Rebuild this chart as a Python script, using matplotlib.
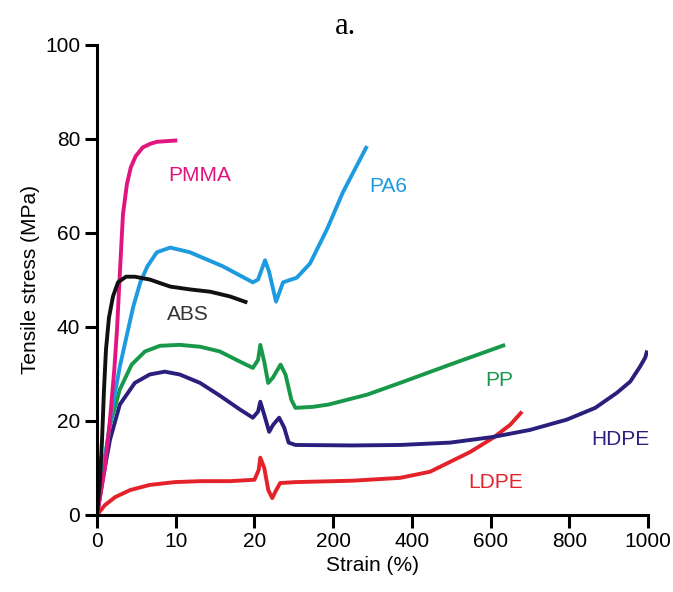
import matplotlib.pyplot as plt
import numpy as np

# broken strain axis: equal spacing between these tick values
strain_ticks = [0, 10, 20, 200, 400, 600, 800, 1000]
stress_ticks = [0, 20, 40, 60, 80, 100]

pmma_x = [0, 1.0, 1.65, 2.2, 2.54, 2.92, 3.3, 3.8, 4.3, 4.9, 5.8, 6.8, 7.6, 10.2]
pmma_y = [0, 10, 20.3, 31, 39.4, 52, 64, 70.4, 74, 76.3, 78.2, 79.0, 79.4, 79.7]

abs_x = [0, 0.38, 0.64, 0.89, 1.14, 1.52, 2.03, 2.67, 3.68, 4.8, 6.7, 9.3, 11.8, 14.4, 16.9, 19.1]
abs_y = [0, 7.5, 16, 26.7, 35.2, 42, 46.5, 49.5, 50.7, 50.7, 50.1, 48.6, 48, 47.5, 46.5, 45.2]

pa6_x = [0, 1.0, 1.9, 2.9, 4.6, 5.5, 6.4, 7.6, 9.3, 11.8, 16.0, 19.8, 28.3, 44.3, 53.4, 69.4,
         85.4, 117, 147, 186, 225, 286]
pa6_y = [0, 11.7, 22.4, 31.6, 44.3, 49.5, 52.9, 55.9, 56.9, 55.9, 52.9, 49.5, 50.1, 54.2, 51.8, 45.4,
         49.5, 50.5, 53.5, 60.8, 68.7, 78.5]

pp_x = [0, 0.76, 1.65, 2.9, 4.4, 6.1, 8.0, 10.5, 13.1, 15.6, 18.2, 19.8, 28.3, 33.4, 42.5,
        51.4, 62, 79.7, 91, 104.5, 113.7, 152.6, 189.6, 286, 370, 497, 637]
pp_y = [0, 9.6, 19.2, 26.7, 32, 34.8, 36, 36.2, 35.8, 34.8, 32.6, 31.3, 33, 36.2, 32.6,
        28.1, 29.2, 32, 29.9, 24.5, 22.8, 23, 23.5, 25.6, 28.1, 32, 36.2]

hdpe_x = [0, 0.76, 1.65, 2.9, 4.8, 6.7, 8.6, 10.5, 13.1, 15.6, 18.2, 19.8, 28.3, 33.4, 42.5,
          53.7, 62.8, 76.6, 88, 98.3, 114, 250, 370, 497, 606, 700, 794, 866, 921, 955, 980, 993, 998]
hdpe_y = [0, 7.9, 16, 23.5, 28.1, 29.9, 30.5, 29.9, 28.1, 25.4, 22.4, 20.7, 22, 24.1, 21.3,
          17.7, 19.2, 20.7, 18.6, 15.4, 14.9, 14.8, 14.9, 15.4, 16.6, 18.1, 20.3, 22.8, 26, 28.4, 31.6, 33.5, 35.0]

ldpe_x = [0, 1.0, 2.3, 4.2, 6.7, 9.9, 13.1, 16.9, 20.1, 29.8, 33.4, 42.5, 51.7, 60.7, 69.8,
          78.9, 114, 250, 370, 446, 497, 548, 606, 650, 680]
ldpe_y = [0, 2.1, 3.8, 5.3, 6.4, 7.0, 7.2, 7.2, 7.5, 9.6, 12.2, 10, 5.3, 3.6, 5.3,
          6.8, 7.0, 7.3, 7.9, 9.2, 11.3, 13.4, 16.4, 19.2, 22]

series = [
    ('LDPE', ldpe_x, ldpe_y, '#e4222a', (614, 7.0)),
    ('HDPE', hdpe_x, hdpe_y, '#2b1f7e', (930, 16)),
    ('PP', pp_x, pp_y, '#18994a', (622, 28.6)),
    ('PA6', pa6_x, pa6_y, '#1e9be0', (340, 70)),
    ('PMMA', pmma_x, pmma_y, '#e0157f', (13.1, 72.3)),
    ('ABS', abs_x, abs_y, '#111111', (11.6, 42.6)),
]
label_colors = {'ABS': '#333333'}

pos = np.arange(len(strain_ticks))


def fwd(x):
    return np.interp(x, strain_ticks, pos)


def inv(p):
    return np.interp(p, pos, strain_ticks)


plt.rcParams['font.family'] = ['Liberation Sans', 'DejaVu Sans']

fig = plt.figure(figsize=(6.73, 5.92), dpi=100)
ax = fig.add_axes([97 / 673, 77 / 592, 551 / 673, 470 / 592])
ax.set_xscale('function', functions=(fwd, inv))

for name, xs, ys, col, (lx, ly) in series:
    ax.plot(xs, ys, color=col, lw=2.8, solid_joinstyle='round', solid_capstyle='butt')
    ax.text(lx, ly, name, color=label_colors.get(name, col), fontsize=15,
            ha='center', va='center')

ax.set_xlim(0, 1000)
ax.set_ylim(0, 100)
ax.set_xticks(strain_ticks)
ax.set_xticklabels([str(t) for t in strain_ticks])
ax.set_yticks(stress_ticks)
ax.xaxis.set_minor_locator(plt.NullLocator())

for s in ['top', 'right']:
    ax.spines[s].set_visible(False)
for s in ['left', 'bottom']:
    ax.spines[s].set_linewidth(2.2)
ax.tick_params(direction='out', length=9, width=2.2, labelsize=15, pad=3)

ax.set_xlabel('Strain (%)', fontsize=15, labelpad=4)
ax.set_ylabel('Tensile stress (MPa)', fontsize=15, labelpad=4)
fig.text(0.513, 0.955, 'a.', family='Liberation Serif', fontsize=22,
         ha='center', va='center')

fig.savefig('out.png', dpi=100)
